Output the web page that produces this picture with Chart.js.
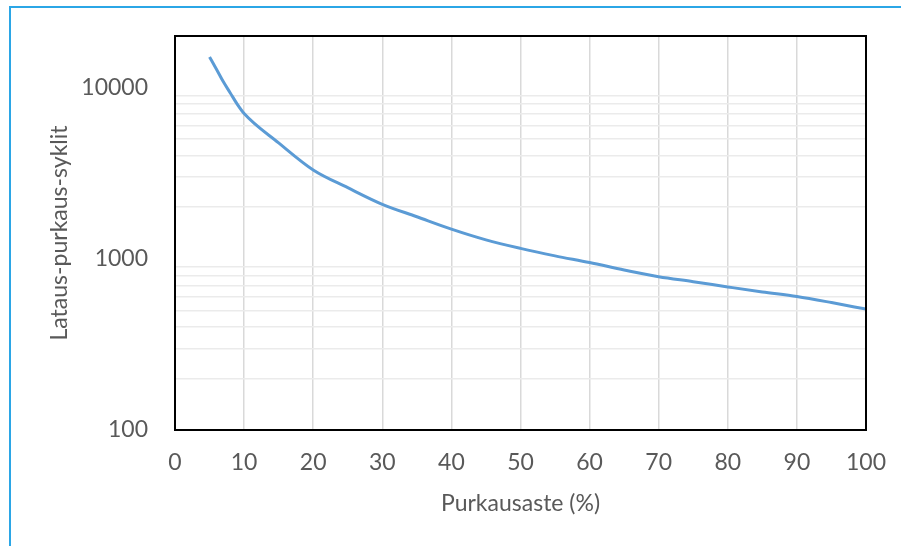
<!DOCTYPE html>
<html>
<head>
<meta charset="utf-8">
<script src="https://cdn.jsdelivr.net/npm/chart.js@4.4.1/dist/chart.umd.min.js"></script>
<style>
  html, body { margin: 0; padding: 0; background: #fff; }
  #wrap { position: relative; width: 901px; height: 546px; overflow: hidden; }
  #frame {
    position: absolute; left: 9px; top: 6px; width: 1000px; height: 1000px;
    border-left: 2px solid #2ba6e6; border-top: 2px solid #2ba6e6;
    pointer-events: none;
  }
</style>
</head>
<body>
<div id="wrap">
  <canvas id="cycles" width="901" height="546"></canvas>
  <div id="frame"></div>
</div>
<script>
/* ===== Lataus-purkaus-syklit vs purkausaste ===== */

// depth of discharge (%) and cycle count
const dod    = [5, 6, 7, 8, 9, 10, 15, 20, 25, 30, 35, 40, 45, 50, 55, 60, 65, 70, 75, 80, 85, 90, 95, 100];
const cycles = [15100, 12800, 10800, 9300, 8000, 7050, 4750, 3300, 2600, 2080, 1760, 1490, 1290, 1150,
                1040, 950, 860, 785, 735, 685, 640, 602, 555, 508];

// log axis: grid lines at every step, labels only at the decades
const yTicks  = [100, 200, 300, 400, 500, 600, 700, 800, 900,
                 1000, 2000, 3000, 4000, 5000, 6000, 7000, 8000, 9000,
                 10000, 20000];
const yLabels = [100, 1000, 10000];
const yNoGrid = [100, 1000, 10000, 20000];

const xTitle = 'Purkausaste (%)';
const yTitle = 'Lataus-purkaus-syklit';

Chart.defaults.font.family = 'Lato, "Open Sans", sans-serif';
Chart.defaults.color = '#595959';

/** black frame round the plot area */
const plotFrame = {
  id: 'plotFrame',
  afterDraw(chart) {
    const a = chart.chartArea;
    const ctx = chart.ctx;
    ctx.save();
    ctx.strokeStyle = '#000';
    ctx.lineWidth = 2;
    ctx.strokeRect(a.left, a.top, a.right - a.left, a.bottom - a.top);
    ctx.restore();
  }
};

new Chart(document.getElementById('cycles').getContext('2d'), {
  type: 'line',
  data: {
    datasets: [{
      label: yTitle,
      data: dod.map((d, i) => ({x: d, y: cycles[i]})),
      borderColor: '#5b9bd5',
      backgroundColor: '#5b9bd5',
      borderWidth: 3,
      pointRadius: 0,
      cubicInterpolationMode: 'monotone',
      fill: false
    }]
  },
  options: {
    responsive: false,
    animation: false,
    layout: { padding: { left: 0, top: 36, right: 35, bottom: 0 } },
    plugins: { legend: { display: false }, tooltip: { enabled: false } },
    scales: {
      x: {
        type: 'linear',
        min: 0,
        max: 100,
        border: { display: false },
        grid: { color: '#d9d9d9', lineWidth: 1.5, drawTicks: false },
        ticks: { stepSize: 10, padding: 19, font: { size: 23 }, maxRotation: 0 },
        title: { display: true, text: xTitle, font: { size: 23 }, padding: { top: 0, bottom: 29 } },
        afterFit: s => { s.height = 116; s.paddingLeft = 0; s.paddingRight = 0; }
      },
      y: {
        type: 'logarithmic',
        min: 100,
        max: 20000,
        border: { display: false },
        afterBuildTicks: axis => { axis.ticks = yTicks.map(v => ({value: v})); },
        grid: {
          drawTicks: false,
          lineWidth: 1.5,
          color: c => (c.tick && yNoGrid.includes(c.tick.value)) ? 'rgba(0,0,0,0)' : '#ebebeb'
        },
        ticks: {
          autoSkip: false,
          padding: 27,
          font: { size: 23 },
          callback: v => yLabels.includes(v) ? String(v) : ''
        },
        title: { display: true, text: yTitle, font: { size: 23 }, padding: { top: 46, bottom: 0 } },
        afterFit: s => { s.width = 175; s.paddingTop = 0; s.paddingBottom = 0; }
      }
    }
  },
  plugins: [plotFrame]
});
</script>
</body>
</html>
